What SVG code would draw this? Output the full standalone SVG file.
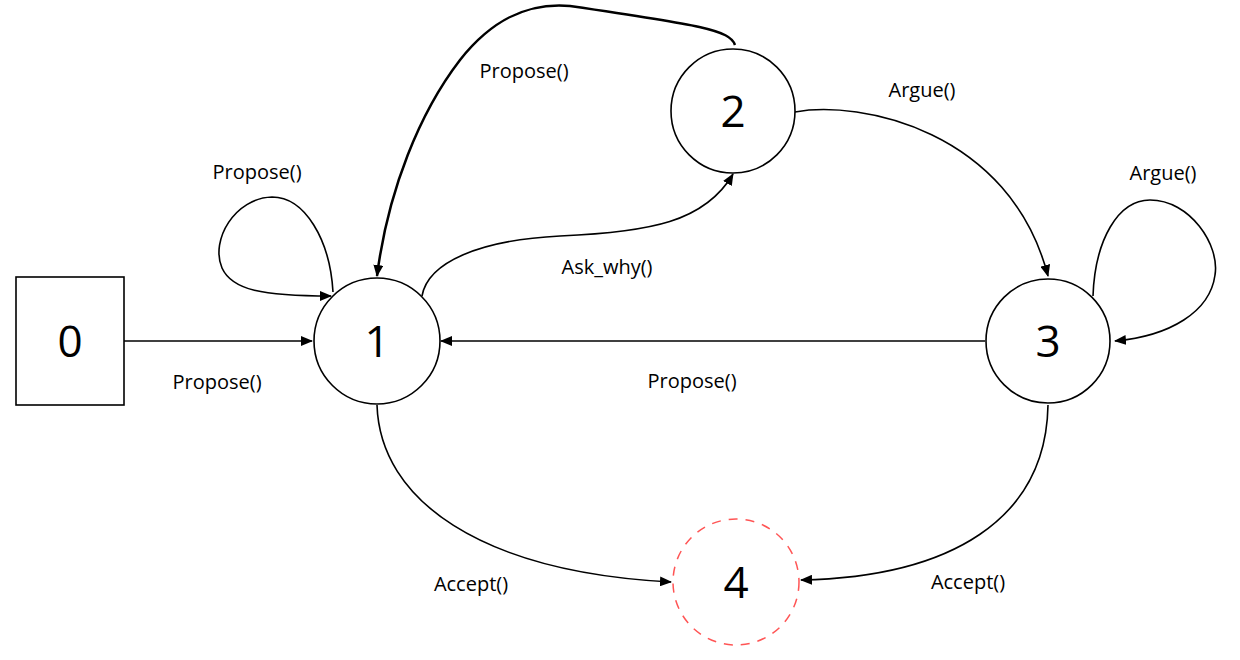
<svg xmlns="http://www.w3.org/2000/svg" width="1240" height="660" viewBox="0 0 1240 660">
<defs>
<marker id="ah" markerWidth="12" markerHeight="10" refX="11" refY="5" orient="auto" markerUnits="userSpaceOnUse">
<path d="M0,0 L12,5 L0,10 Z" fill="#000"/>
</marker>
<style>
.node{fill:#fff;stroke:#000;stroke-width:1.6}
.num{font-family:"Open Sans","Liberation Sans",sans-serif;font-size:44px;fill:#000;text-anchor:middle}
.lbl{font-family:"Open Sans","Liberation Sans",sans-serif;font-size:20px;fill:#000;text-anchor:middle}
.e{fill:none;stroke:#000;stroke-width:1.6;marker-end:url(#ah)}
</style>
</defs>
<rect width="1240" height="660" fill="#fff"/>
<g id="connectors">
<path class="e" d="M124,341 L312,341"/>
<path class="e" d="M333,292 C330,240 305,197 272,197 C235,198 210,240 222,268 C232,290 262,296 331,296"/>
<path class="e" style="stroke-width:2.5" d="M735,45 C730,30 700,25 570,6 C525,2 490,22 460,60 C420,112 388,190 377,276"/>
<path class="e" d="M422,296 C428,262 480,240 560,236 C650,232 705,222 733,174"/>
<path class="e" d="M795,112 C860,100 1010,130 1048,276"/>
<path class="e" d="M1093,296 C1095,240 1118,200 1150,200 C1190,200 1220,245 1215,275 C1210,312 1170,336 1115,341"/>
<path class="e" d="M985,341 L441,341"/>
<path class="e" d="M377,405 C380,500 480,572 671,582"/>
<path class="e" d="M1048,405 C1046,520 950,577 801,580"/>
</g>
<g id="labels">
<text class="lbl" x="217" y="389">Propose()</text>
<text class="lbl" x="257" y="179">Propose()</text>
<text class="lbl" x="524" y="78">Propose()</text>
<text class="lbl" x="607" y="274">Ask_why()</text>
<text class="lbl" x="922" y="97">Argue()</text>
<text class="lbl" x="1163" y="180">Argue()</text>
<text class="lbl" x="692" y="388">Propose()</text>
<text class="lbl" x="471" y="591">Accept()</text>
<text class="lbl" x="968" y="589">Accept()</text>
</g>
<g id="node0">
<rect class="node" x="16" y="277" width="108" height="128"/>
<text class="num" x="70" y="357">0</text>
</g>
<g id="node1">
<circle class="node" cx="377" cy="341" r="63"/>
<text class="num" x="377" y="357">1</text>
</g>
<g id="node2">
<circle class="node" cx="733" cy="111" r="62"/>
<text class="num" x="733" y="127">2</text>
</g>
<g id="node3">
<circle class="node" cx="1048" cy="341" r="62"/>
<text class="num" x="1048" y="357">3</text>
</g>
<g id="node4">
<circle cx="736" cy="582" r="63" fill="#fff" stroke="#FF5555" stroke-width="1.5" stroke-dasharray="9,8"/>
<text class="num" x="736" y="598">4</text>
</g>
</svg>
